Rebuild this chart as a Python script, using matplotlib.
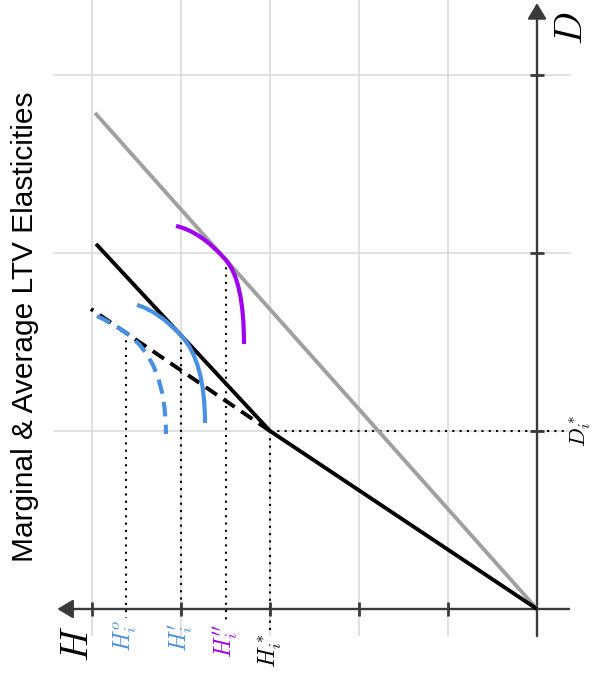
import matplotlib.pyplot as plt
from matplotlib.path import Path
from matplotlib.patches import PathPatch

plt.rcParams['mathtext.fontset'] = 'cm'

# grid / tick positions (H to the left, D upwards)
h_ticks = [1, 2, 3, 4, 5]
d_ticks = [1, 2, 3]

# average (gray) line and kinked marginal schedule
gray_h = [0, 4.966]
gray_d = [0, 2.787]
black_h = [0, 3.0, 4.955]
black_d = [0, 1.0, 2.051]
dash_h = [3.0, 5.011]
dash_d = [1.0, 1.685]

# curves as quadratic bezier nodes (start, ctrl, tangent pt, ctrl, end)
purple_h = [4.056, 3.78, 3.5, 3.292, 3.292]
purple_d = [2.152, 2.121, 1.963, 1.847, 1.489]
blue_h = [4.494, 4.25, 4.0, 3.73, 3.73]
blue_d = [1.708, 1.672, 1.5375, 1.392, 1.045]
bdash_h = [4.944, 4.8, 4.62, 4.169, 4.169]
bdash_d = [1.646, 1.614, 1.552, 1.399, 0.983]

# dotted drop lines: (h, d_top, d_bottom)
drop_h = [4.62, 4.0, 3.5, 3.0]
drop_top = [1.552, 1.5375, 1.963, 1.0]
drop_bot = [-0.05, -0.05, -0.06, -0.13]

lab_text = ["$H_i^o$", "$H_i'$", "$H_i''$", "$H_i^*$"]
lab_color = ["#4a90e2", "#4a90e2", "#a000f0", "black"]
lab_d = [-0.152, -0.163, -0.18, -0.236]

BLUE = "#4a90e2"
PURPLE = "#a000f0"
AXC = "#3a3a3a"

fig = plt.figure(figsize=(5.94, 6.73), dpi=100)
ax = fig.add_axes([0, 0, 1, 1])
ax.set_xlim(6.0337, -0.6404)
ax.set_ylim(-0.3596, 3.4213)
ax.axis('off')

# grid
for h in h_ticks:
    ax.plot([h, h], [-0.146, 3.42], color="#dadada", lw=1.2, zorder=1)
for d in d_ticks:
    ax.plot([5.43, -0.371], [d, d], color="#dadada", lw=1.2, zorder=1)

# axes with arrows
arr = dict(arrowstyle='-|>,head_length=0.5,head_width=0.3', color=AXC,
           lw=1.7, mutation_scale=19, shrinkA=0, shrinkB=0)
ax.annotate('', xy=(5.39, 0), xytext=(-0.36, 0), arrowprops=arr, zorder=3)
ax.annotate('', xy=(0, 3.404), xytext=(0, -0.152), arrowprops=arr, zorder=3)
ax.plot(h_ticks, [0] * len(h_ticks), ls='none', marker='|', ms=10,
        mew=2, color=AXC, zorder=3)
ax.plot([0] * len(d_ticks), d_ticks, ls='none', marker='_', ms=10,
        mew=2, color=AXC, zorder=3)

# dotted guides
dots = (0, (1, 2.5))
for h, top, bot in zip(drop_h, drop_top, drop_bot):
    ax.plot([h, h], [top, bot], color='black', lw=1.5, ls=dots, zorder=2)
ax.plot([3.0, -0.35], [1.0, 1.0], color='black', lw=1.5, ls=dots, zorder=2)

# straight lines
ax.plot(gray_h, gray_d, color="#a0a0a0", lw=2.8, solid_capstyle='butt', zorder=4)
ax.plot(black_h, black_d, color='black', lw=2.8, solid_capstyle='butt', zorder=4)
ax.plot(dash_h, dash_d, color='black', lw=2.8, ls=(0, (3.5, 2)), zorder=4)


def curve(hs, ds, color, ls='-'):
    codes = [Path.MOVETO] + [Path.CURVE3] * (len(hs) - 1)
    p = Path(list(zip(hs, ds)), codes)
    ax.add_patch(PathPatch(p, fill=False, edgecolor=color, lw=3.0,
                           ls=ls, capstyle='butt', zorder=5))


curve(purple_h, purple_d, PURPLE)
curve(blue_h, blue_d, BLUE)
curve(bdash_h, bdash_d, BLUE, ls=(0, (3.5, 2)))

# labels
for h, d, t, c in zip(drop_h, lab_d, lab_text, lab_color):
    ax.text(h, d, t, color=c, fontsize=17, rotation=90, ha='center', va='center')
ax.text(-0.483, 1.0, "$D_i^*$", fontsize=16, rotation=90, ha='center', va='center')
ax.text(5.17, -0.197, "$H$", fontsize=28, rotation=90, ha='center', va='center')
ax.text(-0.382, 3.264, "$D$", fontsize=28, rotation=90, ha='center', va='center')

fig.text(0.042, 0.514, "Marginal & Average LTV Elasticities", rotation=90,
         fontsize=21.5, family='Liberation Sans', ha='center', va='center')

fig.savefig("out.png", dpi=100)
